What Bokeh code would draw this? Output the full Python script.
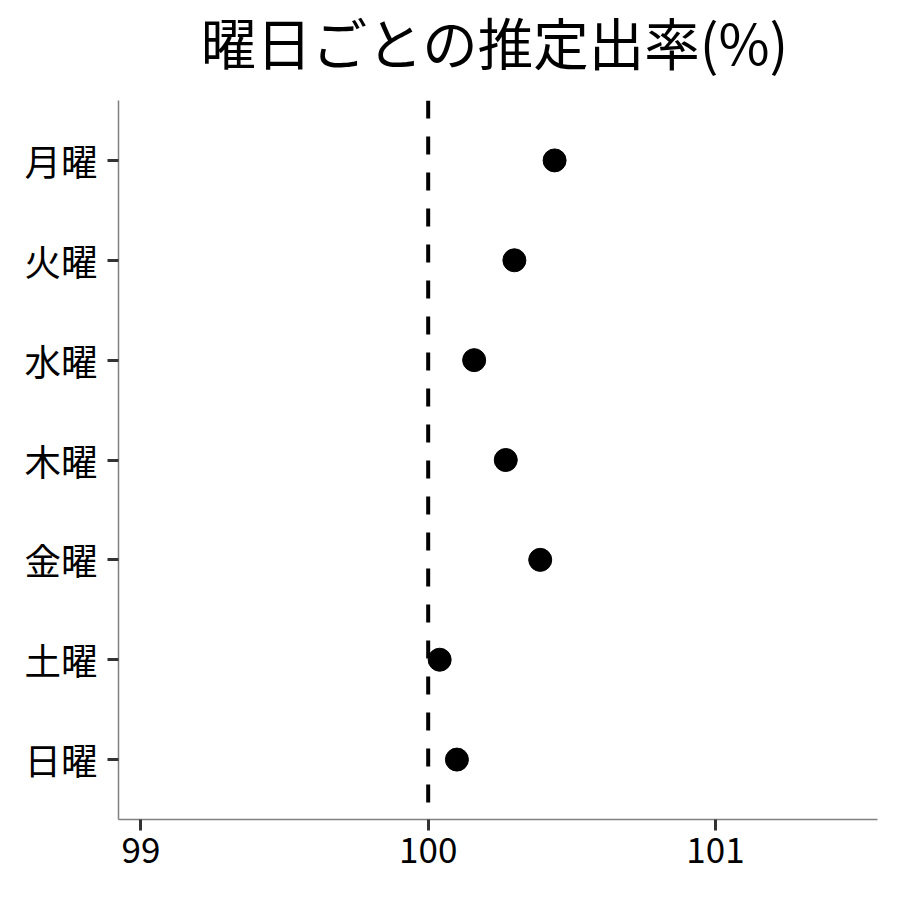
from bokeh.plotting import figure
from bokeh.models import FactorRange, Range1d, Span, FixedTicker, Div
from bokeh.layouts import column
from bokeh.embed import file_html
from bokeh.resources import INLINE

days = ["月曜", "火曜", "水曜", "木曜", "金曜", "土曜", "日曜"]
rates = [100.44, 100.30, 100.16, 100.27, 100.39, 100.04, 100.10]
x_ticks = [99, 100, 101]
reference_value = 100
title_text = "曜日ごとの推定出率(%)"

FONT = "Noto Sans CJK JP"

p = figure(
    width=884, height=784,
    y_range=FactorRange(factors=list(reversed(days)), range_padding=0.1,
                        range_padding_units="absolute"),
    x_range=Range1d(98.922, 101.564),
    output_backend="svg", toolbar_location=None,
    min_border_left=118, min_border_right=7, min_border_top=0, min_border_bottom=65,
)

p.outline_line_color = None
p.xgrid.grid_line_color = None
p.ygrid.grid_line_color = None
p.background_fill_color = "white"
p.border_fill_color = "white"

for ax in (p.xaxis, p.yaxis):
    ax.axis_line_color = "#808080"
    ax.axis_line_width = 1.5
    ax.major_tick_line_color = "#333333"
    ax.major_tick_line_width = 3
    ax.major_tick_out = 11
    ax.major_tick_in = 0
    ax.minor_tick_line_color = None
    ax.major_label_text_font = FONT
    ax.major_label_text_color = "black"

p.xaxis.major_label_text_font_size = "35px"
p.yaxis.major_label_text_font_size = "36.5px"
p.xaxis.ticker = FixedTicker(ticks=x_ticks)
p.xaxis.major_label_standoff = 6
p.yaxis.major_label_standoff = 10

span = Span(location=reference_value, dimension="height", line_color="black",
            line_width=4, line_dash="18 18")
p.add_layout(span)

p.scatter(x=rates, y=days, size=23, color="black")

title_div = Div(
    text=(f'<div style="width:759px;margin-left:115px;text-align:center;'
          f"font-family:'{FONT}';font-size:55.5px;line-height:normal;padding-top:1px;"
          f'color:black;white-space:nowrap;">{title_text}</div>'),
    width=884, height=100, margin=0,
)

layout = column(title_div, p, spacing=0)

open("out.html", "w").write(file_html(layout, INLINE))
